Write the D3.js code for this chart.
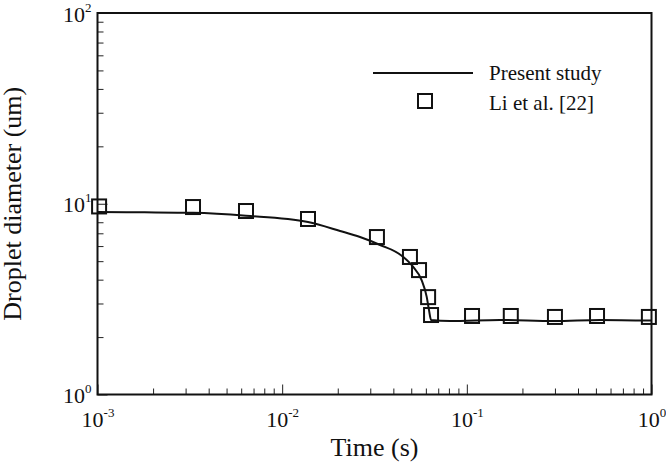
<!DOCTYPE html>
<html>
<head>
<meta charset="utf-8">
<script src="https://cdn.jsdelivr.net/npm/d3@7"></script>
<style>
  body { margin: 0; background: #fff; }
  .minor line, .major line { stroke: #222; stroke-width: 1; }
  .domain { display: none; }
</style>
</head>
<body>
<div id="chart"></div>
<script>
// present study (solid line)
const curveTime = [0.001, 0.0018, 0.00329, 0.00637, 0.0138, 0.0206, 0.0264, 0.0339, 0.0451, 0.0511, 0.0569, 0.0606, 0.0624, 0.064, 0.081, 0.151, 0.297, 0.526, 1.0];
const curveDiam = [9.05, 9.02, 8.96, 8.65, 8.02, 7.20, 6.69, 6.08, 5.28, 4.68, 3.98, 3.26, 2.77, 2.46, 2.43, 2.46, 2.43, 2.46, 2.44];

// Li et al. [22] (squares)
const liTime = [0.00102, 0.00329, 0.00637, 0.0138, 0.0326, 0.0492, 0.0551, 0.0617, 0.064, 0.1067, 0.173, 0.300, 0.507, 0.968];
const liDiam = [9.68, 9.61, 9.16, 8.32, 6.69, 5.26, 4.49, 3.24, 2.61, 2.58, 2.58, 2.55, 2.58, 2.55];

const xMajor = [0.001, 0.01, 0.1, 1];
const xMajorExp = ['-3', '-2', '-1', '0'];
const yMajor = [1, 10, 100];
const yMajorExp = ['0', '1', '2'];

const legendLabels = ['Present study', 'Li et al. [22]'];

const w = 666, h = 463,
    plot = { left: 97.5, right: 651.5, top: 13, bottom: 394.5 },
    serif = 'Liberation Serif';

const minorTicks = (lo, hi) => {
    const out = [];
    for (let e = lo; e < hi; e++)
        for (let m = 2; m <= 9; m++) out.push(m * Math.pow(10, e));
    return out;
};

const x = d3.scaleLog().domain([1e-3, 1]).range([plot.left, plot.right]);
const y = d3.scaleLog().domain([1, 100]).range([plot.bottom, plot.top]);

const svg = d3.select('#chart').append('svg')
    .attr('width', w)
    .attr('height', h)
    .attr('font-family', serif);

// minor ticks
svg.append('g')
    .attr('class', 'minor')
    .attr('transform', 'translate(0,' + plot.bottom + ')')
    .call(d3.axisBottom(x).tickValues(minorTicks(-3, 0)).tickSize(-6).tickFormat(''));

svg.append('g')
    .attr('class', 'minor')
    .attr('transform', 'translate(' + plot.left + ',0)')
    .call(d3.axisLeft(y).tickValues(minorTicks(0, 2)).tickSize(-6).tickFormat(''));

// major ticks with 10^n labels
const xAx = svg.append('g')
    .attr('class', 'major')
    .attr('transform', 'translate(0,' + plot.bottom + ')')
    .call(d3.axisBottom(x).tickValues(xMajor).tickSize(-10).tickFormat(''));

xAx.selectAll('.tick text').remove();
xAx.selectAll('.tick').append('text')
    .attr('y', 32)
    .attr('fill', '#111')
    .attr('text-anchor', 'middle')
    .attr('font-family', serif)
    .attr('font-size', 22)
    .each(function (d, i) {
        const t = d3.select(this);
        t.append('tspan').text('10');
        t.append('tspan').attr('dy', -10).attr('font-size', 13).text(xMajorExp[i]);
    });

const yAx = svg.append('g')
    .attr('class', 'major')
    .attr('transform', 'translate(' + plot.left + ',0)')
    .call(d3.axisLeft(y).tickValues(yMajor).tickSize(-10).tickFormat(''));

yAx.selectAll('.tick text').remove();
yAx.selectAll('.tick').append('text')
    .attr('x', -6)
    .attr('y', 8)
    .attr('fill', '#111')
    .attr('text-anchor', 'end')
    .attr('font-family', serif)
    .attr('font-size', 22)
    .each(function (d, i) {
        const t = d3.select(this);
        t.append('tspan').text('10');
        t.append('tspan').attr('dy', -10).attr('font-size', 13).text(yMajorExp[i]);
    });

// frame
svg.append('rect')
    .attr('x', plot.left)
    .attr('y', plot.top)
    .attr('width', plot.right - plot.left)
    .attr('height', plot.bottom - plot.top)
    .attr('fill', 'none')
    .attr('stroke', '#111')
    .attr('stroke-width', 2);

// simulation curve
const line = d3.line()
    .x((d, i) => x(curveTime[i]))
    .y(d => y(d))
    .curve(d3.curveMonotoneX);

svg.append('path')
    .datum(curveDiam)
    .attr('d', line)
    .attr('fill', 'none')
    .attr('stroke', '#111')
    .attr('stroke-width', 2);

// experimental squares
const sq = 14;
svg.append('g')
    .selectAll('rect')
    .data(liDiam)
    .enter()
    .append('rect')
    .attr('x', (d, i) => x(liTime[i]) - sq / 2)
    .attr('y', d => y(d) - sq / 2)
    .attr('width', sq)
    .attr('height', sq)
    .attr('fill', 'none')
    .attr('stroke', '#111')
    .attr('stroke-width', 2);

// axis titles
svg.append('text')
    .attr('x', (plot.left + plot.right) / 2)
    .attr('y', 456)
    .attr('text-anchor', 'middle')
    .attr('fill', '#111')
    .attr('font-family', serif)
    .attr('font-size', 26)
    .text('Time (s)');

svg.append('text')
    .attr('transform', 'translate(21,' + (plot.top + plot.bottom) / 2 + ') rotate(-90)')
    .attr('text-anchor', 'middle')
    .attr('fill', '#111')
    .attr('font-family', serif)
    .attr('font-size', 26)
    .text('Droplet diameter (um)');

// legend
const leg = svg.append('g').attr('id', 'legend');
leg.append('line')
    .attr('x1', 373).attr('x2', 473)
    .attr('y1', 73).attr('y2', 73)
    .attr('stroke', '#111')
    .attr('stroke-width', 2);
leg.append('rect')
    .attr('x', 425 - sq / 2).attr('y', 101 - sq / 2)
    .attr('width', sq).attr('height', sq)
    .attr('fill', 'none')
    .attr('stroke', '#111')
    .attr('stroke-width', 2);
leg.selectAll('text')
    .data(legendLabels)
    .enter()
    .append('text')
    .attr('x', 489)
    .attr('y', (d, i) => 80 + i * 29.5)
    .attr('fill', '#111')
    .attr('font-family', serif)
    .attr('font-size', 21)
    .text(d => d);
</script>
</body>
</html>
